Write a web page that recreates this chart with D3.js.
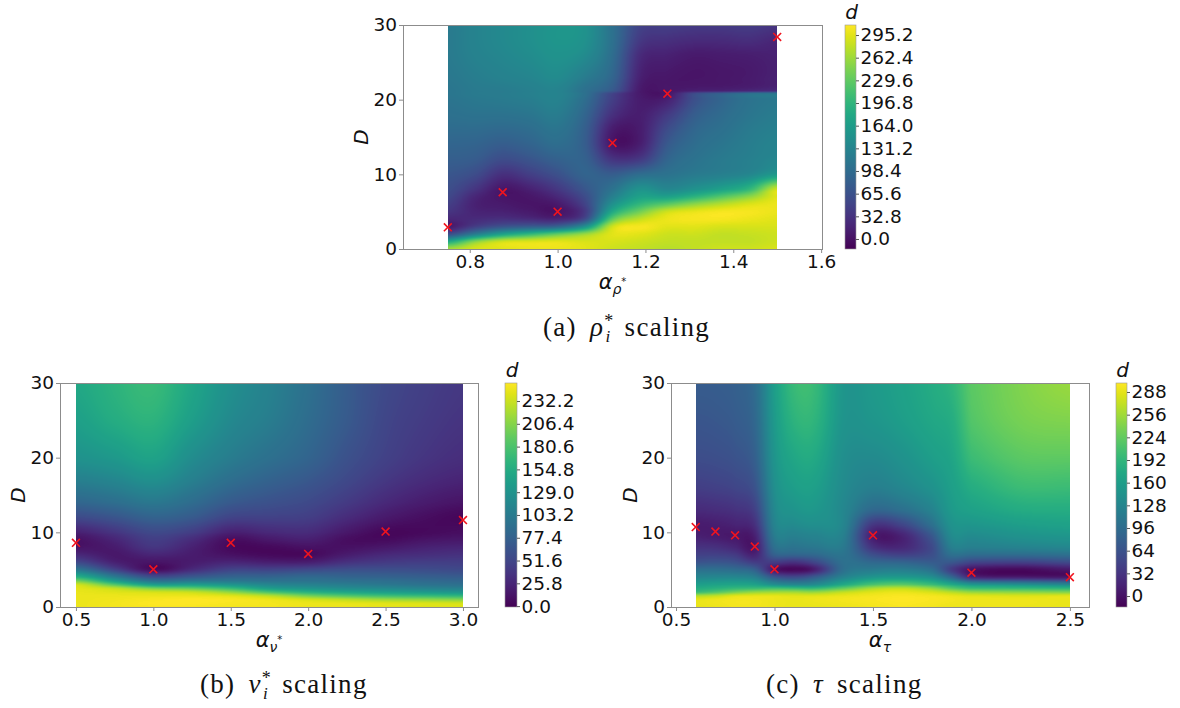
<!DOCTYPE html>
<html>
<head>
<meta charset="utf-8">
<script src="https://cdn.jsdelivr.net/npm/d3@7"></script>
<style>
  body { margin: 0; background: #fff; }
  svg { display: block; }
</style>
</head>
<body>
<svg id="fig" width="1180" height="708"></svg>
<script>
// ---- (a) rho* scaling : d(alpha, D), one row of D values per alpha column
var rhoAlpha = [0.75, 0.8125, 0.875, 0.9375, 1.0, 1.0625, 1.125, 1.1875, 1.25, 1.3125, 1.375, 1.4375, 1.5];
var rhoD = [0, 1, 2, 3, 4, 5, 6, 7, 8, 10, 12, 14, 16, 18, 20, 20.8, 21.2, 23, 26, 28, 30];
var rhoGrid = [
  [265,180,60,8,20,35,45,55,62,72,82,90,98,105,110,112,112,115,118,118,118],
  [290,250,120,45,25,18,15,20,35,60,78,88,98,108,115,118,118,122,128,130,130],
  [295,285,170,70,30,15,8,4,5,30,60,80,95,108,118,120,120,128,135,138,138],
  [300,292,200,80,25,8,3,5,15,45,70,88,100,112,122,125,125,133,142,146,146],
  [300,295,230,90,20,2,8,22,38,65,85,100,110,120,128,130,130,140,150,155,155],
  [295,290,260,150,60,40,50,60,72,88,85,80,82,90,100,105,105,120,140,148,150],
  [285,290,295,285,230,180,148,125,108,80,35,5,10,30,45,50,75,90,100,105,105],
  [280,285,295,305,280,240,200,170,150,100,40,12,10,12,10,8,8,15,25,40,50],
  [275,280,285,295,300,285,228,170,135,108,90,75,60,40,15,5,5,5,15,30,45],
  [280,280,285,295,305,298,255,195,150,118,108,100,92,80,65,60,12,3,8,25,40],
  [285,280,280,290,305,305,275,225,170,125,118,112,105,98,90,85,15,5,10,25,40],
  [285,280,282,290,300,305,292,255,200,135,125,122,118,112,108,105,20,8,12,28,42],
  [290,285,285,290,295,300,300,295,285,160,135,130,125,120,115,112,25,15,15,20,35]
];
var rhoMinAlpha = [0.75, 0.875, 1.0, 1.125, 1.25, 1.5];
var rhoMinD = [2.9, 7.6, 5.0, 14.2, 20.8, 28.4];
var rhoXTicks = [0.8, 1.0, 1.2, 1.4, 1.6];
var rhoCTicks = [0.0, 32.8, 65.6, 98.4, 131.2, 164.0, 196.8, 229.6, 262.4, 295.2];

// ---- (b) nu* scaling
var nuAlpha = [0.5, 0.75, 1.0, 1.25, 1.5, 1.75, 2.0, 2.25, 2.5, 2.75, 3.0];
var nuD = [0, 0.5, 1, 1.5, 2, 2.5, 3, 3.5, 4, 5, 6, 7, 8, 9, 10, 12, 14, 17, 20, 25, 30];
var nuGrid = [
  [245,245,245,245,244,242,235,200,160,100,55,28,12,10,22,55,82,108,128,142,150],
  [248,248,247,245,240,228,185,140,105,50,22,15,18,25,38,65,90,115,135,155,162],
  [250,252,250,245,235,200,140,95,60,8,12,25,38,45,55,78,100,125,145,162,170],
  [250,252,252,245,230,190,140,100,70,30,18,18,22,30,45,70,88,108,122,140,148],
  [248,250,250,240,210,170,130,100,80,50,25,10,5,8,22,50,70,90,105,118,125],
  [248,248,245,225,180,140,115,95,80,50,20,5,5,15,28,48,62,78,92,105,110],
  [245,245,235,200,160,130,110,95,85,55,20,5,10,20,30,45,55,68,80,88,92],
  [245,243,225,185,148,122,105,92,80,60,35,18,10,8,15,30,42,54,62,70,72],
  [242,240,215,175,140,118,100,90,78,60,42,28,15,6,4,16,28,40,48,52,55],
  [240,238,210,170,135,112,95,85,75,58,45,32,22,12,5,8,18,30,38,43,46],
  [240,235,205,165,130,108,92,82,72,55,45,35,25,15,8,3,12,24,32,37,40]
];
var nuMinAlpha = [0.5, 1.0, 1.5, 2.0, 2.5, 3.0];
var nuMinD = [8.6, 5.05, 8.6, 7.1, 10.1, 11.65];
var nuXTicks = [0.5, 1.0, 1.5, 2.0, 2.5, 3.0];
var nuCTicks = [0.0, 25.8, 51.6, 77.4, 103.2, 129.0, 154.8, 180.6, 206.4, 232.2];

// ---- (c) tau scaling
var tauAlpha = [0.6, 0.7, 0.8, 0.9, 1.0, 1.1, 1.2, 1.35, 1.5, 1.65, 1.8, 1.9, 2.0, 2.25, 2.5];
var tauD = [0, 1, 1.5, 2, 2.5, 3, 4, 5, 6, 7, 8, 9.5, 11, 13, 16, 20, 25, 30];
var tauGrid = [
  [290,288,262,200,178,160,128,100,65,45,30,12,8,22,42,58,68,75],
  [292,292,270,215,185,165,130,100,68,45,28,8,10,25,45,60,70,76],
  [295,295,285,235,195,168,130,95,62,38,18,5,15,30,50,65,75,80],
  [295,295,288,250,200,165,120,80,40,15,5,12,28,45,65,80,90,95],
  [292,292,288,255,205,140,70,5,40,80,100,115,125,132,140,148,155,160],
  [290,290,285,255,200,130,55,-8,30,85,105,120,135,148,160,172,188,198],
  [290,292,285,250,195,135,75,10,50,90,110,125,140,152,162,175,190,198],
  [292,295,290,270,225,175,125,100,100,105,112,120,128,130,135,140,148,150],
  [295,298,295,285,260,210,150,115,90,60,30,10,35,90,120,135,150,155],
  [298,300,298,290,270,220,155,118,85,45,20,15,50,100,130,145,160,165],
  [295,298,295,280,250,200,140,100,75,60,55,70,100,125,145,160,172,178],
  [292,295,290,265,220,175,90,40,70,100,120,135,145,155,162,170,180,190],
  [292,292,285,250,200,150,20,0,50,95,120,135,150,165,180,200,215,220],
  [292,292,282,245,195,140,10,-8,45,95,125,145,160,178,200,220,235,240],
  [290,290,285,240,190,130,5,5,55,100,130,150,165,180,200,222,240,252]
];
var tauMinAlpha = [0.6, 0.7, 0.8, 0.9, 1.0, 1.5, 2.0, 2.5];
var tauMinD = [10.7, 10.1, 9.6, 8.1, 5.05, 9.6, 4.6, 4.0];
var tauXTicks = [0.5, 1.0, 1.5, 2.0, 2.5];
var tauCTicks = [0, 32, 64, 96, 128, 160, 192, 224, 256, 288];

var yTicks = [0, 10, 20, 30];

var svg = d3.select("#fig");
var defs = svg.append("defs");
var tickFont = "DejaVu Sans, Verdana, sans-serif";
var spineColor = "#8c8c8c";

// fractional index of a value inside a sorted grid axis
function fracIndex(xs, a) {
  if (a <= xs[0]) return 0;
  if (a >= xs[xs.length - 1]) return xs.length - 1;
  var i = d3.bisectRight(xs, a) - 1;
  return i + (a - xs[i]) / (xs[i + 1] - xs[i]);
}

function catmull(p0, p1, p2, p3, t) {
  return 0.5 * (2 * p1 + (p2 - p0) * t + (2 * p0 - 5 * p1 + 4 * p2 - p3) * t * t + (3 * p1 - p0 - 3 * p2 + p3) * t * t * t);
}

// smooth lookup in the grid (like imshow's bicubic interpolation)
function sample(xs, ys, grid, a, d) {
  var fi = fracIndex(xs, a), fj = fracIndex(ys, d);
  var i = Math.min(xs.length - 2, Math.floor(fi)), j = Math.min(ys.length - 2, Math.floor(fj));
  var tx = fi - i, ty = fj - j;
  var nI = xs.length - 1, nJ = ys.length - 1;
  var col = [];
  for (var k = -1; k <= 2; k++) {
    var ii = Math.max(0, Math.min(nI, i + k));
    var c = grid[ii];
    col.push(catmull(c[Math.max(0, j - 1)], c[j], c[j + 1], c[Math.min(nJ, j + 2)], ty));
  }
  return catmull(col[0], col[1], col[2], col[3], tx);
}

function drawPanel(p) {
  var x = d3.scaleLinear().domain(p.xDomain).range(p.xRange);
  var y = d3.scaleLinear().domain([0, 30]).range(p.yRange);
  var color = d3.scaleSequential(d3.interpolateViridis).domain(p.cDomain).clamp(true);
  var g = svg.append("g");

  // heat map, drawn pixel by pixel into a canvas
  var x0 = Math.round(x(p.alpha[0])), x1 = Math.round(x(p.alpha[p.alpha.length - 1]));
  var y0 = Math.round(y(30)), y1 = Math.round(y(0));
  var w = x1 - x0, h = y1 - y0;
  var canvas = document.createElement("canvas");
  canvas.width = w; canvas.height = h;
  var ctx = canvas.getContext("2d");
  var img = ctx.createImageData(w, h);
  for (var py = 0; py < h; py++) {
    var dv = y.invert(y0 + py + 0.5);
    for (var px = 0; px < w; px++) {
      var av = x.invert(x0 + px + 0.5);
      var c = d3.rgb(color(sample(p.alpha, p.D, p.grid, av, dv)));
      var k = (py * w + px) * 4;
      img.data[k] = c.r; img.data[k + 1] = c.g; img.data[k + 2] = c.b; img.data[k + 3] = 255;
    }
  }
  ctx.putImageData(img, 0, 0);
  g.append("image")
    .attr("x", x0).attr("y", y0)
    .attr("width", w).attr("height", h)
    .attr("preserveAspectRatio", "none")
    .attr("href", canvas.toDataURL());

  // axes
  var xAxis = g.append("g")
    .attr("transform", "translate(0," + p.yRange[0] + ")")
    .call(d3.axisBottom(x).tickValues(p.xTicks).tickFormat(d3.format(".1f")).tickSize(4).tickPadding(2));
  var yAxis = g.append("g")
    .attr("transform", "translate(" + p.xRange[0] + ",0)")
    .call(d3.axisLeft(y).tickValues(yTicks).tickFormat(d3.format("d")).tickSize(4).tickPadding(2));
  [xAxis, yAxis].forEach(function(a) {
    a.attr("font-family", tickFont).attr("font-size", 18.5);
    a.select(".domain").remove();
    a.selectAll(".tick line").attr("stroke", spineColor);
    a.selectAll(".tick text").attr("fill", "#111");
  });

  g.append("rect")
    .attr("x", p.xRange[0] + 0.5).attr("y", p.yRange[1] + 0.5)
    .attr("width", p.xRange[1] - p.xRange[0]).attr("height", p.yRange[0] - p.yRange[1])
    .attr("fill", "none").attr("stroke", spineColor).attr("stroke-width", 1);

  // red crosses at the minima
  g.selectAll("path.minmark")
    .data(p.minAlpha)
    .enter().append("path")
    .attr("class", "minmark")
    .attr("d", d3.symbol(d3.symbolTimes, 42))
    .attr("transform", function(d, i) { return "translate(" + x(d) + "," + y(p.minD[i]) + ")"; })
    .attr("fill", "none").attr("stroke", "#f0141e").attr("stroke-width", 1.6);

  // axis labels
  var xl = g.append("text")
    .attr("x", (p.xRange[0] + p.xRange[1]) / 2).attr("y", p.yRange[0] + 40)
    .attr("text-anchor", "middle")
    .attr("font-family", tickFont).attr("font-size", 21).attr("fill", "#111");
  xl.append("tspan").attr("font-style", "italic").text("α");
  xl.append("tspan").attr("font-style", "italic").attr("font-size", 14).attr("dy", 5).text(p.xSub);
  if (p.xSup) xl.append("tspan").attr("font-size", 10).attr("dy", -9).text(p.xSup);

  g.append("text")
    .attr("transform", "translate(" + p.yLabelX + "," + ((p.yRange[0] + p.yRange[1]) / 2) + ") rotate(-90)")
    .attr("text-anchor", "middle")
    .attr("font-family", tickFont).attr("font-size", 20).attr("font-style", "italic")
    .attr("fill", "#111")
    .text("D");

  // colour bar
  var cb = d3.scaleLinear().domain(p.cDomain).range(p.yRange);
  var gid = "grad" + p.id;
  var grad = defs.append("linearGradient").attr("id", gid)
    .attr("x1", 0).attr("y1", 1).attr("x2", 0).attr("y2", 0);
  d3.range(0, 21).forEach(function(i) {
    var t = i / 20;
    grad.append("stop").attr("offset", t)
      .attr("stop-color", color(p.cDomain[0] + t * (p.cDomain[1] - p.cDomain[0])));
  });
  g.append("rect")
    .attr("x", p.cbX).attr("y", p.yRange[1])
    .attr("width", p.cbW).attr("height", p.yRange[0] - p.yRange[1])
    .attr("fill", "url(#" + gid + ")")
    .attr("stroke", "#9a9a9a").attr("stroke-width", 0.6);
  var cAxis = g.append("g")
    .attr("transform", "translate(" + (p.cbX + p.cbW) + ",0)")
    .call(d3.axisRight(cb).tickValues(p.cTicks).tickFormat(d3.format(p.cFmt)).tickSize(3).tickPadding(1.5));
  cAxis.attr("font-family", tickFont).attr("font-size", 18.5);
  cAxis.select(".domain").remove();
  cAxis.selectAll(".tick line").attr("stroke", "#555");
  cAxis.selectAll(".tick text").attr("fill", "#111");

  g.append("text")
    .attr("x", p.cbX + p.cbW / 2 + 1).attr("y", p.yRange[1] - 6)
    .attr("text-anchor", "middle")
    .attr("font-family", tickFont).attr("font-size", 20).attr("font-style", "italic")
    .attr("fill", "#111")
    .text("d");

  // caption
  var cap = svg.append("text")
    .attr("x", p.capX).attr("y", p.capY)
    .attr("font-family", "Liberation Serif, Times New Roman, serif")
    .attr("font-size", 27).attr("letter-spacing", 1.3).attr("word-spacing", 5)
    .attr("fill", "#111");
  cap.append("tspan").text(p.capLetter + " ");
  cap.append("tspan").attr("font-style", "italic").text(p.capSym);
  if (p.capStar) {
    cap.append("tspan").attr("font-size", 18).attr("dy", -9).text("*");
    cap.append("tspan").attr("font-size", 17).attr("font-style", "italic").attr("dx", -9).attr("dy", 15).text("i");
    cap.append("tspan").attr("dy", -6).text(" scaling");
  } else {
    cap.append("tspan").text(" scaling");
  }
}

drawPanel({
  id: "a", alpha: rhoAlpha, D: rhoD, grid: rhoGrid,
  minAlpha: rhoMinAlpha, minD: rhoMinD,
  xDomain: [0.648, 1.602], xRange: [403, 822], yRange: [249, 25],
  xTicks: rhoXTicks, xSub: "ρ", xSup: "*", yLabelX: 368,
  cDomain: [-14.5, 309.7], cTicks: rhoCTicks, cFmt: ".1f", cbX: 845, cbW: 11,
  capX: 543, capY: 336, capLetter: "(a)", capSym: "ρ", capStar: true
});

drawPanel({
  id: "b", alpha: nuAlpha, D: nuD, grid: nuGrid,
  minAlpha: nuMinAlpha, minD: nuMinD,
  xDomain: [0.397, 3.097], xRange: [60, 478], yRange: [607, 383],
  xTicks: nuXTicks, xSub: "ν", xSup: "*", yLabelX: 25,
  cDomain: [-1, 252.6], cTicks: nuCTicks, cFmt: ".1f", cbX: 505, cbW: 12,
  capX: 200, capY: 693, capLetter: "(b)", capSym: "ν", capStar: true
});

drawPanel({
  id: "c", alpha: tauAlpha, D: tauD, grid: tauGrid,
  minAlpha: tauMinAlpha, minD: tauMinD,
  xDomain: [0.4745, 2.597], xRange: [671, 1089], yRange: [607, 383],
  xTicks: tauXTicks, xSub: "τ", xSup: null, yLabelX: 637,
  cDomain: [-15.5, 300.7], cTicks: tauCTicks, cFmt: "d", cbX: 1116, cbW: 11,
  capX: 766, capY: 693, capLetter: "(c)", capSym: "τ", capStar: false
});
</script>
</body>
</html>
